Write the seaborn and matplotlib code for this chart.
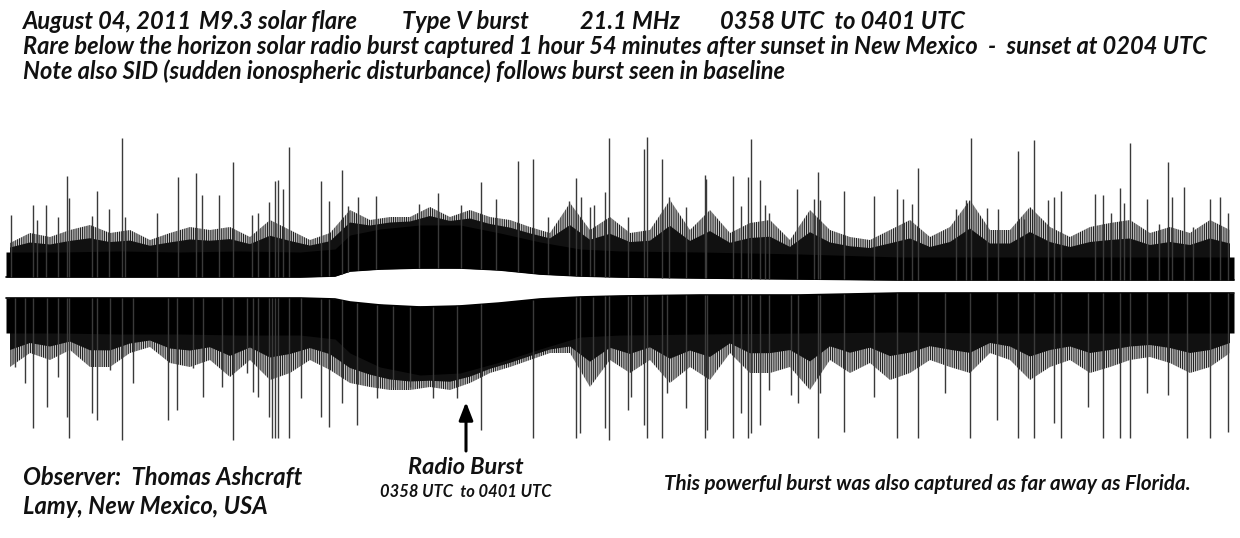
"""
Strip-chart recreation: Type V solar radio burst, 21.1 MHz, August 04, 2011.
Drawn with seaborn / matplotlib on a blank axes sized to the record.
"""

import numpy as np
import matplotlib
matplotlib.use("Agg")
import matplotlib.pyplot as plt
import seaborn as sns

# ---------------------------------------------------------------------------
# Data. x = position along the record, amplitude is the
# pen deflection from the centre line (positive = upper trace).
# ---------------------------------------------------------------------------

# smooth envelope of the solid core of the trace
core_x = [6, 60, 120, 180, 240, 300, 335, 350, 380, 420, 460, 500,
          540, 580, 620, 700, 800, 900, 1000, 1100, 1180, 1234]
upper_inner = [10, 10, 10, 10, 10, 10, 11, 16, 18, 19, 19, 17,
               13, 11, 10, 9, 8, 7, 7, 7, 7, 7]
upper_core = [35, 35, 36, 35, 36, 35, 38, 52, 58, 62, 62, 54,
              45, 38, 36, 35, 33, 30, 30, 30, 30, 30]
lower_inner = [-11, -11, -11, -11, -11, -11, -12, -15, -18, -20, -19, -16,
               -12, -10, -9, -8, -8, -6, -6, -6, -6, -6]
lower_core = [-46, -46, -47, -47, -48, -48, -52, -66, -80, -88, -86, -75,
              -62, -50, -48, -47, -46, -45, -46, -46, -46, -46]

# ragged outer edge of the dense noise, one value per 20-unit bin
fuzz_x = list(range(10, 1240, 20))
upper_fuzz = [44, 54, 50, 57, 62, 54, 57, 47, 54, 60, 57, 60, 50, 67, 57, 47,
              54, 77, 67, 70, 70,
              80, 70, 77, 70, 67, 60, 54, 84, 57, 70, 54, 57, 87, 57, 77, 54,
              64, 67, 47, 77,
              57, 50, 47, 57, 67, 50, 60, 87, 57, 57, 80, 60, 50, 60, 64, 67,
              54, 60, 54, 67, 57]
lower_fuzz = [-80, -66, -73, -63, -80, -80, -66, -60, -76, -80, -73, -90, -73,
              -93, -86, -73, -83, -96, -100, -103, -103,
              -100, -103, -96, -86, -80, -73, -66, -66, -100, -73, -86, -73,
              -96, -80, -93, -66, -86, -86, -80, -103,
              -73, -86, -76, -93, -86, -73, -80, -86, -66, -73, -93, -80, -73,
              -86, -80, -73, -70, -76, -86, -80, -66]

# isolated impulsive spikes
up_spike_x = [11, 33, 37, 46, 58, 67, 69, 92, 97, 109, 122, 125, 157, 178,
              196, 202, 219, 233, 252, 258, 269, 275, 278, 283, 289, 321, 329,
              342, 348, 358, 376, 419, 438, 461, 481, 496, 518, 533, 548, 569,
              576, 581, 590, 594, 605, 609, 628, 644, 647, 662, 669, 686, 705,
              706, 733, 741, 748, 751, 760, 765, 769, 797, 814, 818, 820, 844,
              874, 897, 903, 912, 918, 956, 966, 971, 987, 998, 1018, 1024,
              1034, 1048, 1054, 1061, 1095, 1103, 1111, 1120, 1124, 1130, 1147,
              1159, 1168, 1172, 1184, 1193, 1210, 1220, 1228]
up_spike_amp = [72, 82, 67, 82, 70, 111, 89, 71, 96, 78, 149, 70, 74, 110,
                114, 92, 92, 125, 72, 74, 85, 106, 107, 98, 140, 106, 86,
                117, 81, 90, 91, 83, 94, 82, 105, 88, 126, 128, 70, 86,
                109, 90, 80, 82, 95, 149, 70, 138, 150, 128, 90, 80, 112,
                108, 111, 81, 110, 148, 107, 82, 74, 98, 88, 115, 87, 96,
                91, 98, 88, 83, 119, 78, 87, 149, 79, 78, 136, 68,
                147, 87, 90, 96, 93, 92, 74, 99, 84, 144, 88,
                63, 125, 90, 100, 60, 88, 90, 74]

low_spike_x = [15, 25, 33, 47, 58, 67, 69, 92, 97, 110, 122, 133, 168, 177,
               193, 203, 222, 233, 247, 253, 258, 269, 272, 275, 278, 289, 301,
               321, 329, 342, 357, 377, 393, 410, 433, 457, 481, 533, 576, 580,
               593, 605, 609, 628, 631, 644, 647, 662, 667, 686, 705, 707, 733,
               741, 748, 751, 760, 769, 791, 798, 818, 820, 844, 874, 897, 918,
               945, 970, 997, 1018, 1034, 1054, 1061, 1088, 1103, 1120, 1130,
               1147, 1168, 1187, 1210, 1228]
low_spike_amp = [-80, -96, -141, -120, -90, -130, -151, -126, -133, -83, -153,
                 -96, -133, -123, -81, -110, -100, -153, -86, -105, -110, -130,
                 -151, -151, -151, -151, -111, -130, -140, -116, -138, -111,
                 -100, -100, -111, -111, -143, -151, -151, -146, -93, -141,
                 -153, -123, -110, -138, -151, -151, -106, -121, -151, -143,
                 -151, -126, -151, -146, -138, -103, -108, -116, -151, -106,
                 -145, -110, -151, -151, -106, -151, -133, -151, -151, -136,
                 -151, -120, -151, -151, -151, -106, -108, -151, -151, -145]

burst_x = 466  # where the radio burst arrow points

title_lines = [
    "Rare below the horizon solar radio burst captured 1 hour 54 minutes "
    "after sunset in New Mexico  -  sunset at 0204 UTC",
    "Note also SID (sudden ionospheric disturbance) follows burst seen in baseline",
]
header_items = ["August 04, 2011", "M9.3 solar flare", "Type V burst",
                "21.1 MHz", "0358 UTC  to 0401 UTC"]

# ---------------------------------------------------------------------------
W, H = 1240, 538
CENTER = 287  # pixel row of the trace centre line

sns.set_theme(style="white")
plt.rcParams["font.family"] = ["Lato", "DejaVu Sans"]
plt.rcParams["hatch.linewidth"] = 0.8

fig = plt.figure(figsize=(W / 100, H / 100), dpi=100)
fig.patch.set_facecolor("white")
ax = fig.add_axes([0, 0, 1, 1])
ax.set_xlim(0, W)
ax.set_ylim(CENTER - H, CENTER)
ax.axis("off")

# dense noise: sparse comb out to the ragged edge, denser comb half way,
# solid core on top
for inner, core, fuzz in [(upper_inner, upper_core, upper_fuzz),
                          (lower_inner, lower_core, lower_fuzz)]:
    base = np.interp(fuzz_x, core_x, inner)
    core_f = np.interp(fuzz_x, core_x, core)
    fuzz = np.asarray(fuzz)
    ax.fill_between(fuzz_x, base, fuzz, facecolor="none",
                    edgecolor="#222222", hatch="|" * 9, lw=0)
    ax.fill_between(fuzz_x, base, core_f + 0.5 * (fuzz - core_f),
                    facecolor="none", edgecolor="#111111", hatch="|" * 18,
                    lw=0)
ax.fill_between(core_x, upper_inner, upper_core, color="black", lw=0)
ax.fill_between(core_x, lower_inner, lower_core, color="black", lw=0)
sns.lineplot(x=core_x, y=upper_inner, color="black", lw=1.2, ax=ax)
sns.lineplot(x=core_x, y=lower_inner, color="black", lw=1.2, ax=ax)

# spikes from the band edge outward
ax.vlines(up_spike_x, np.interp(up_spike_x, core_x, upper_inner), up_spike_amp,
          color="#3a3a3a", lw=1.0)
ax.vlines(low_spike_x, np.interp(low_spike_x, core_x, lower_inner),
          low_spike_amp, color="#3a3a3a", lw=1.0)


def put(x, y, s, size, ha="left", **kw):
    # place text by pixel position (y measured from the top)
    return fig.text(x / W, 1 - y / H, s, fontsize=size, ha=ha, va="baseline",
                    style="italic", weight="bold", color="#111111", **kw)


def fit(t, width_px):
    r = fig.canvas.get_renderer()
    w = t.get_window_extent(r).width
    t.set_fontsize(t.get_fontsize() * width_px / w)
    return t.get_fontsize()


# header
t2 = put(23, 54, title_lines[0], 16)
fs = fit(t2, 1184)
put(23, 79, title_lines[1], fs)
for x0, s in zip([23, 199, 402, 580, 720], header_items):
    put(x0, 29, s, fs)

# annotations at the bottom
t = put(23, 485, "Observer:  Thomas Ashcraft", 15)
fs_obs = fit(t, 279)
put(23, 514, "Lamy, New Mexico, USA", fs_obs)

t = put(burst_x, 474, "Radio Burst", 15, ha="center")
fit(t, 116)
t = put(burst_x, 497, "0358 UTC  to 0401 UTC", 11, ha="center")
fit(t, 172)

t = put(664, 490, "This powerful burst was also captured as far away as Florida.", 13)
fit(t, 527)

ax.annotate("", xy=(burst_x, CENTER - 402), xytext=(burst_x, CENTER - 451),
            arrowprops=dict(arrowstyle="-|>,head_length=0.9,head_width=0.35",
                            color="black", lw=2.2, shrinkA=0, shrinkB=0))

fig.savefig("out.png", dpi=100, facecolor="white")
